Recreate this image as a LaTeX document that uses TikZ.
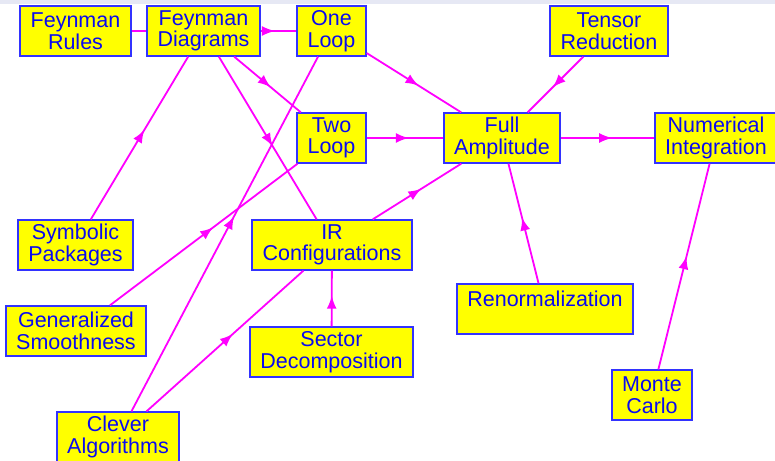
\documentclass[tikz,border=0pt]{standalone}
\usepackage{fontspec}
\setmainfont{Liberation Sans}
\usetikzlibrary{arrows.meta,decorations.markings}
\definecolor{boxfill}{RGB}{255,255,0}
\definecolor{boxline}{RGB}{50,50,255}
\definecolor{boxtext}{RGB}{10,10,240}
\definecolor{edgecol}{RGB}{255,0,255}
\definecolor{topband}{RGB}{230,232,244}
\tikzset{
  box/.style={draw=boxline, line width=1.3pt, fill=boxfill, text=boxtext,
    rectangle, inner sep=0pt, minimum height=50pt, align=center,
    font=\fontsize{21.5}{21.5}\selectfont},
  edge/.style={draw=edgecol, line width=1.8pt},
  midarrow/.style={postaction={decorate}, decoration={markings,
    mark=at position #1 with {\arrow{Latex[length=13pt,width=10pt]}}}},
  midarrow/.default=0.55
}
\begin{document}
\begin{tikzpicture}[x=1pt,y=-1pt]
\useasboundingbox (0,0) rectangle (775,460);
\fill[topband] (0,0) rectangle (775,4);
% nodes
\node[box, minimum width=111pt] (rules) at (75.5,31) {Feynman\\Rules};
\node[box, minimum width=113pt] (diag) at (203.5,31) {Feynman\\Diagrams};
\node[box, minimum width=69pt] (one) at (331.5,31) {One\\Loop};
\node[box, minimum width=118pt] (tensor) at (609,31) {Tensor\\Reduction};
\node[box, minimum width=69pt] (two) at (331.5,138) {Two\\Loop};
\node[box, minimum width=116pt] (full) at (502,138) {Full\\Amplitude};
\node[box, minimum width=122pt] (numint) at (716,138) {Numerical\\Integration};
\node[box, minimum width=115pt] (symb) at (75.5,245) {Symbolic\\Packages};
\node[box, minimum width=160pt] (ir) at (332,245) {IR\\Configurations};
\node[box, minimum width=140pt] (gensm) at (76,331) {Generalized\\Smoothness};
\node[box, minimum width=163pt] (sector) at (331.5,352) {Sector\\Decomposition};
\node[box, minimum width=176pt] (renorm) at (545,309) {Renormalization\\\mbox{}};
\node[box, minimum width=80pt] (monte) at (652,395) {Monte\\Carlo};
\node[box, minimum width=122pt] (clever) at (118,437) {Clever\\Algorithms};
% edges
\draw[edge] (rules) -- (diag);
\draw[edge, midarrow=0.4] (diag) -- (one);
\draw[edge, midarrow] (diag) -- (two);
\draw[edge, midarrow] (diag) -- (ir);
\draw[edge, midarrow] (symb) -- (diag);
\draw[edge, midarrow] (one) -- (full);
\draw[edge, midarrow] (tensor) -- (full);
\draw[edge, midarrow] (two) -- (full);
\draw[edge, midarrow] (full) -- (numint);
\draw[edge, midarrow] (ir) -- (full);
\draw[edge, midarrow] (renorm) -- (full);
\draw[edge, midarrow] (monte) -- (numint);
\draw[edge, midarrow] (gensm) -- (two);
\draw[edge, midarrow] (clever) -- (one);
\draw[edge, midarrow] (clever) -- (ir);
\draw[edge, midarrow] (sector) -- (ir);
\end{tikzpicture}
\end{document}
